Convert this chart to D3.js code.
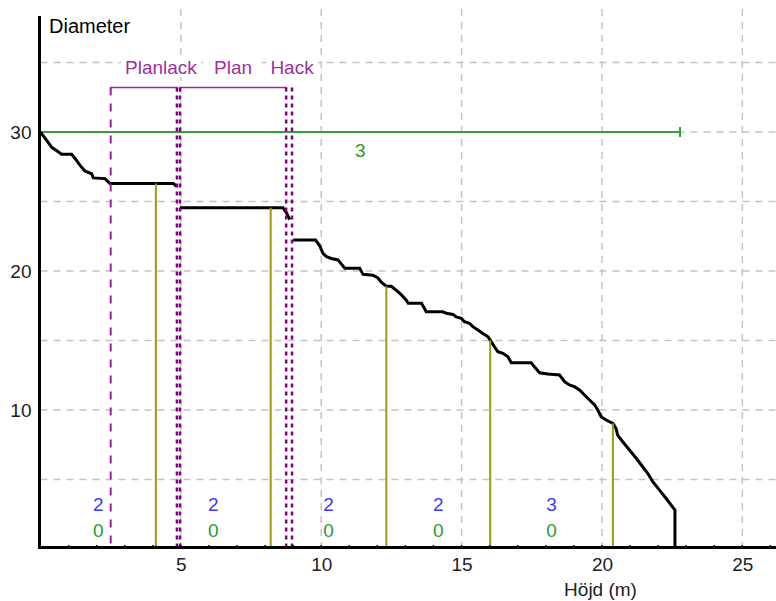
<!DOCTYPE html>
<html>
<head>
<meta charset="utf-8">
<script src="https://cdn.jsdelivr.net/npm/d3@7"></script>
<style>
  body { margin: 0; background: #fff; }
  svg { display: block; font-family: "Liberation Sans", Arial, sans-serif; }
</style>
</head>
<body>
<svg id="chart" width="776" height="601"></svg>
<script>
// stamprofil: höjd (m) och diameter
var profileHeight = [0, 0.22, 0.4, 0.58, 0.75, 1.11, 1.23, 1.41, 1.58, 1.82, 1.88, 2.3, 2.47, 4.73, 4.85,
  4.97, 8.64, 8.76, 8.88, 9.0, 9.8, 9.95, 10.06, 10.19, 10.36, 10.6, 10.72, 10.84, 11.37, 11.49,
  11.84, 12.02, 12.14, 12.32, 12.5, 12.68, 12.85, 13.03, 13.1, 13.57, 13.68, 13.74, 14.33, 14.46,
  14.69, 14.81, 14.99, 15.1, 15.28, 15.4, 15.58, 15.76, 15.94, 16.06, 16.17, 16.29, 16.47, 16.65,
  16.77, 17.48, 17.6, 17.78, 18.07, 18.49, 18.67, 18.84, 19.02, 19.2, 19.38, 19.56, 19.74, 19.85,
  19.97, 20.15, 20.39, 20.5, 20.56, 20.74, 20.98, 21.22, 21.45, 21.63, 21.81, 22.05, 22.28, 22.46,
  22.6, 22.6];
var profileDiam = [30, 29.4, 28.9, 28.65, 28.4, 28.4, 28.1, 27.6, 27.2, 27.0, 26.7, 26.65, 26.3, 26.3, 26.1,
  24.55, 24.55, 24.2, 23.7, 22.23, 22.23, 21.8, 21.27, 21.03, 20.9, 20.8, 20.5, 20.2, 20.2, 19.76,
  19.7, 19.5, 19.2, 18.9, 18.9, 18.6, 18.3, 17.9, 17.68, 17.68, 17.3, 17.07, 17.07, 16.96,
  16.88, 16.7, 16.6, 16.35, 16.24, 16.0, 15.76, 15.5, 15.27, 14.9, 14.55, 14.2, 14.08, 13.83,
  13.4, 13.4, 13.1, 12.68, 12.59, 12.52, 12.04, 11.8, 11.68, 11.44, 11.08, 10.72, 10.36, 10.0,
  9.52, 9.28, 9.04, 8.68, 8.2, 7.72, 7.12, 6.53, 5.92, 5.45, 4.84, 4.24, 3.65, 3.17,
  2.8, 0];

// kapställen och antal per stock
var cutHeights = [4.11, 8.2, 12.32, 16.02, 20.39];
var blueCounts = [2, 2, 2, 2, 3];
var greenCounts = [0, 0, 0, 0, 0];

// sortiment-zoner
var zoneNames = ["Planlack", "Plan", "Hack"];
var zoneStart = [2.5, 4.97, 8.96];
var zoneEnd = [4.86, 8.75, 8.96];
var zoneLabelAt = [4.29, 6.86, 8.96];

// grön linje
var greenLevel = 30;
var greenStart = 0;
var greenEnd = 22.78;
var greenLabel = "3";

var xTickValues = [5, 10, 15, 20, 25];
var yTickValues = [10, 20, 30];
var xGrid = [5, 10, 15, 20, 25];
var yGrid = [5, 10, 15, 20, 25, 30, 35];

var svg = d3.select("#chart");

var x = d3.scaleLinear().domain([0, 26.2]).range([40.5, 776]);
var y = d3.scaleLinear().domain([0, 38.35]).range([549, 16]);

// rutnät
svg.append("g").selectAll("line").data(xGrid).enter().append("line")
  .attr("x1", function(d) { return x(d); }).attr("x2", function(d) { return x(d); })
  .attr("y1", y(0)).attr("y2", 4)
  .attr("stroke", "#c4c4c4").attr("stroke-width", 1.5).attr("stroke-dasharray", "7,6");
svg.append("g").selectAll("line").data(yGrid).enter().append("line")
  .attr("x1", x(0)).attr("x2", 776)
  .attr("y1", function(d) { return y(d); }).attr("y2", function(d) { return y(d); })
  .attr("stroke", "#c4c4c4").attr("stroke-width", 1.5).attr("stroke-dasharray", "7,6");

// grön linje
svg.append("line")
  .attr("x1", x(greenStart)).attr("x2", x(greenEnd))
  .attr("y1", y(greenLevel)).attr("y2", y(greenLevel))
  .attr("stroke", "#3a9e3a").attr("stroke-width", 2);
svg.append("line")
  .attr("x1", x(greenEnd)).attr("x2", x(greenEnd))
  .attr("y1", y(greenLevel) - 5).attr("y2", y(greenLevel) + 5)
  .attr("stroke", "#3a9e3a").attr("stroke-width", 2);
svg.append("text")
  .attr("x", x((greenStart + greenEnd) / 2)).attr("y", y(greenLevel) + 25)
  .attr("text-anchor", "middle").attr("font-size", 19).attr("fill", "#2e9a2e")
  .text(greenLabel);

// profil, bruten vid varje ny zon
var breaks = zoneStart.slice(1);
var profile = [];
profileHeight.forEach(function(h, i) {
  if (i > 0 && breaks.some(function(b) { return profileHeight[i - 1] < b && h >= b; })) profile.push(null);
  profile.push([h, profileDiam[i]]);
});
var line = d3.line()
  .defined(function(d) { return d !== null; })
  .x(function(d) { return x(d[0]); }).y(function(d) { return y(d[1]); });
svg.append("path").datum(profile)
  .attr("d", line)
  .attr("fill", "none").attr("stroke", "#000").attr("stroke-width", 3);

// diameter vid en höjd (för kapstrecken)
function diamAt(h) {
  for (var i = 1; i < profileHeight.length; i++) {
    if (profileHeight[i] >= h) {
      var t = (h - profileHeight[i - 1]) / (profileHeight[i] - profileHeight[i - 1]);
      return profileDiam[i - 1] + t * (profileDiam[i] - profileDiam[i - 1]);
    }
  }
  return 0;
}

svg.append("g").selectAll("line").data(cutHeights).enter().append("line")
  .attr("x1", function(d) { return x(d); }).attr("x2", function(d) { return x(d); })
  .attr("y1", y(0)).attr("y2", function(d) { return y(diamAt(d)); })
  .attr("stroke", "#9a9a14").attr("stroke-width", 2);

// zoner
var zoneTop = y(33.2);
zoneNames.forEach(function(name, i) {
  var s = zoneStart[i], e = zoneEnd[i];
  if (e > s) {
    svg.append("polyline")
      .attr("points", [[x(s), zoneTop + 4], [x(s), zoneTop], [x(e), zoneTop], [x(e), zoneTop + 4]].join(" "))
      .attr("fill", "none").attr("stroke", "#9a2a9a").attr("stroke-width", 1.5);
  }
  var bounds = i === 0 ? [s, e] : (e > s ? [s, e] : [s]);
  bounds.forEach(function(b, j) {
    var thin = (i === 0 && j === 0);
    svg.append("line")
      .attr("x1", x(b)).attr("x2", x(b))
      .attr("y1", zoneTop).attr("y2", y(0))
      .attr("stroke", thin ? "#a020a0" : "#800080")
      .attr("stroke-width", thin ? 2 : 2.5)
      .attr("stroke-dasharray", thin ? "8,8" : "4,4");
  });
});

zoneNames.forEach(function(name, i) {
  var t = svg.append("text")
    .attr("x", x(zoneLabelAt[i])).attr("y", 73.5)
    .attr("text-anchor", "middle").attr("font-size", 19).attr("fill", "#a030a0")
    .text(name);
  var bb = t.node().getBBox();
  svg.insert("rect", function() { return t.node(); })
    .attr("x", bb.x - 4).attr("y", bb.y).attr("width", bb.width + 8).attr("height", bb.height)
    .attr("fill", "#fff");
});

// antal per stock
var segEdges = [0].concat(cutHeights);
var segMid = cutHeights.map(function(c, i) { return (segEdges[i] + c) / 2; });
svg.append("g").selectAll("text").data(blueCounts).enter().append("text")
  .attr("x", function(d, i) { return x(segMid[i]); }).attr("y", 511)
  .attr("text-anchor", "middle").attr("font-size", 19).attr("fill", "#3b3bf5")
  .text(function(d) { return d; });
svg.append("g").selectAll("text").data(greenCounts).enter().append("text")
  .attr("x", function(d, i) { return x(segMid[i]); }).attr("y", 536.5)
  .attr("text-anchor", "middle").attr("font-size", 19).attr("fill", "#2e9a2e")
  .text(function(d) { return d; });

// axlar
var xAxis = d3.axisBottom(x).tickValues(xTickValues).tickSize(0).tickPadding(9);
var gx = svg.append("g").attr("transform", "translate(0," + y(0) + ")").call(xAxis);
gx.select(".domain").remove();
gx.selectAll("text").attr("font-size", 19).attr("fill", "#222").attr("font-family", null);

svg.append("g").selectAll("line").data(d3.range(1, 27)).enter().append("line")
  .attr("x1", function(d) { return x(d); }).attr("x2", function(d) { return x(d); })
  .attr("y1", y(0)).attr("y2", y(0) - 4)
  .attr("stroke", "#000").attr("stroke-width", 1.5);

var yAxis = d3.axisLeft(y).tickValues(yTickValues).tickSize(0).tickPadding(9);
var gy = svg.append("g").attr("transform", "translate(" + x(0) + ",0)").call(yAxis);
gy.select(".domain").remove();
gy.selectAll("text").attr("font-size", 19).attr("fill", "#222").attr("font-family", null);

svg.append("line").attr("x1", x(0) - 1.5).attr("x2", 776).attr("y1", y(0) - 1.5).attr("y2", y(0) - 1.5)
  .attr("stroke", "#000").attr("stroke-width", 3);
svg.append("line").attr("x1", x(0) - 1).attr("x2", x(0) - 1).attr("y1", 16).attr("y2", y(0))
  .attr("stroke", "#000").attr("stroke-width", 3);

svg.append("text").attr("x", 49).attr("y", 32.5).attr("font-size", 20).attr("fill", "#000").text("Diameter");
svg.append("text").attr("x", x(19.95)).attr("y", 596).attr("text-anchor", "middle")
  .attr("font-size", 19).attr("fill", "#222").text("Höjd (m)");
</script>
</body>
</html>
